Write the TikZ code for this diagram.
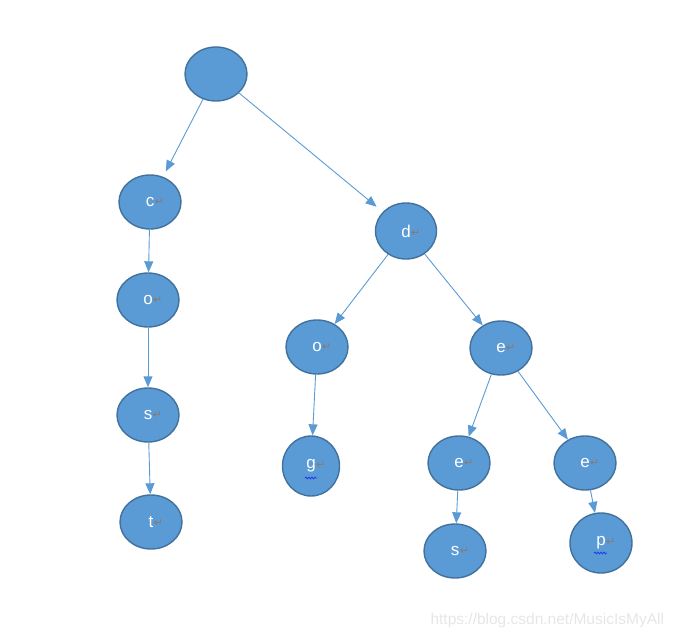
\documentclass[tikz,border=0pt]{standalone}
\usepackage{fontspec}
\setmainfont{Liberation Sans}
\newfontfamily\symfont{DejaVu Sans}
\usetikzlibrary{shapes.geometric,arrows.meta,decorations.pathmorphing}
\definecolor{nodefill}{HTML}{5B9BD5}
\definecolor{nodeborder}{HTML}{41719C}
\definecolor{edgecol}{HTML}{5B9BD5}
\definecolor{markcol}{RGB}{140,120,110}
\definecolor{wavecol}{RGB}{30,60,230}
\definecolor{wmcol}{RGB}{230,230,230}
\newcommand{\rmark}{\rlap{\hspace{0.5pt}\raisebox{0.5pt}{\symfont\fontsize{11}{11}\selectfont\color{markcol}↵}}}
\tikzset{
  tnode/.style={ellipse, fill=nodefill, draw=nodeborder, line width=1.4pt,
    minimum width=62pt, minimum height=54pt, inner sep=0pt,
    text=white, font=\fontsize{17}{17}\selectfont},
  edge/.style={draw=edgecol, line width=0.9pt, -{Triangle[length=11pt,width=9pt]}},
  wave/.style={draw=wavecol, line width=0.8pt, decorate,
    decoration={snake, segment length=3pt, amplitude=0.9pt}}
}
\begin{document}
\begin{tikzpicture}[x=1pt,y=-1pt]
\useasboundingbox (0,0) rectangle (674,639);
\node[tnode] (root) at (216,74) {};
\node[tnode] (c) at (150,202) {c\rmark};
\node[tnode] (o1) at (148,300) {o\rmark};
\node[tnode] (s1) at (148,415) {s\rmark};
\node[tnode] (t) at (151,522) {t\rmark};
\node[tnode, minimum width=61pt, minimum height=56pt] (d) at (406,231) {d\rmark};
\node[tnode] (o2) at (317,347) {o\rmark};
\node[tnode, minimum width=57pt, minimum height=60pt] (g) at (311,466) {g\rmark};
\node[tnode] (e1) at (501,348) {e\rmark};
\node[tnode] (e2) at (459,463) {e\rmark};
\node[tnode] (e3) at (585,463) {e\rmark};
\node[tnode] (s2) at (455,551) {s\rmark};
\node[tnode, minimum height=60pt] (p) at (601,543) {p\rmark};

\draw[edge, shorten >=6pt] (root) -- (c);
\draw[edge, shorten >=8pt] (root) -- (d);
\draw[edge] (c) -- (o1);
\draw[edge] (o1) -- (s1);
\draw[edge] (s1) -- (t);
\draw[edge] (d) -- (o2);
\draw[edge] (d) -- (e1);
\draw[edge] (o2) -- (g);
\draw[edge] (e1) -- (e2);
\draw[edge] (e1) -- (e3);
\draw[edge] (e2) -- (s2);
\draw[edge] (e3) -- (p);

\draw[wave] ([xshift=-6pt,yshift=-12pt]g.center) -- ([xshift=6pt,yshift=-12pt]g.center);
\draw[wave] ([xshift=-7pt,yshift=-10pt]p.center) -- ([xshift=6pt,yshift=-10pt]p.center);

\node[text=wmcol, font=\fontsize{15.5}{15.5}\selectfont, anchor=west] (wm) at (427,620) {https://blog.csdn.net/MusicIsMyAll};
\end{tikzpicture}
\end{document}
